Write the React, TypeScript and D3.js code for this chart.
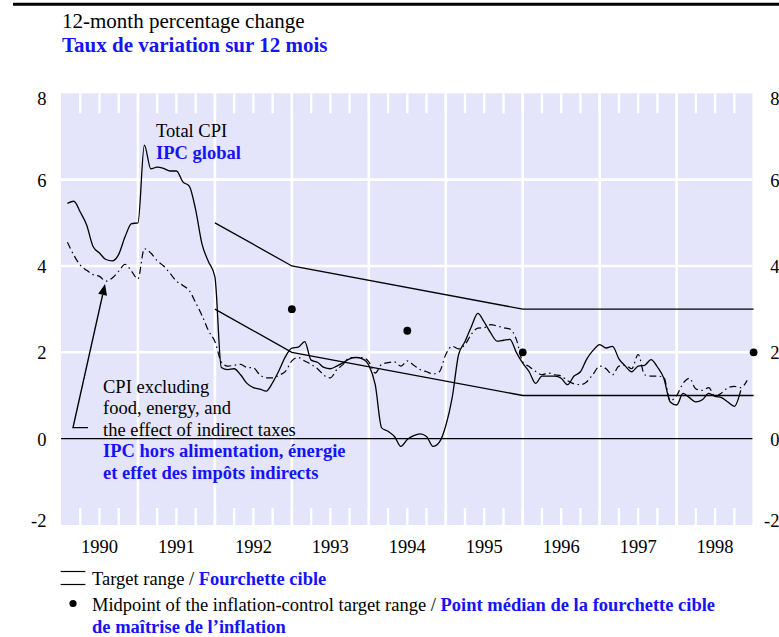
import React from "react";
import * as d3 from "d3";

// ---------- data ----------
const START_YEAR = 1990;
// Monthly 12-month % change, Jan 1990 onward
const totalCPI = [
  5.45, 5.5, 5.25, 4.95, 4.45, 4.3, 4.15, 4.12, 4.27, 4.68, 4.98, 5.0,
  6.8, 6.25, 6.29, 6.26, 6.2, 6.2, 5.95, 5.85, 5.3, 4.5, 4.1, 3.75,
  1.65, 1.6, 1.62, 1.48, 1.28, 1.18, 1.15, 1.1, 1.3, 1.58, 1.9, 2.1,
  2.12, 2.25, 1.82, 1.77, 1.65, 1.62, 1.68, 1.76, 1.85, 1.88, 1.85, 1.7,
  1.25, 0.25, 0.17, 0.05, -0.18, -0.02, 0.07, 0.11, 0.05, -0.18, -0.08, 0.3,
  0.95, 1.95, 2.25, 2.6, 2.9, 2.7, 2.45, 2.26, 2.28, 2.3, 2.0, 1.75,
  1.55, 1.28, 1.45, 1.45, 1.45, 1.4, 1.25, 1.45, 1.55, 1.85, 2.05, 2.18,
  2.1, 2.14, 1.85, 1.68, 1.55, 1.68, 1.7, 1.83, 1.66, 1.4, 0.85, 0.78,
  1.05, 0.95, 0.85, 0.9, 1.05, 0.98, 0.95, 0.85, 0.75, 1.12,
];
const coreCPI = [
  4.55, 4.25, 4.02, 3.9, 3.8, 3.76, 3.65, 3.72, 3.88, 4.04, 3.88, 3.7,
  4.4, 4.3, 4.12, 4.0, 3.83, 3.65, 3.55, 3.43, 3.15, 2.85, 2.5, 2.25,
  1.78, 1.68, 1.7, 1.72, 1.65, 1.64, 1.48, 1.41, 1.41, 1.47, 1.56, 1.8,
  1.88, 1.8, 1.72, 1.62, 1.47, 1.41, 1.6, 1.72, 1.88, 1.88, 1.88, 1.78,
  1.52, 1.72, 1.76, 1.78, 1.68, 1.8, 1.7, 1.6, 1.55, 1.5, 1.55, 1.95,
  2.14, 2.08, 2.18, 2.42, 2.56, 2.57, 2.64, 2.61, 2.57, 2.54, 2.3, 1.78,
  1.67, 1.56, 1.48, 1.52, 1.48, 1.45, 1.34, 1.27, 1.25, 1.32, 1.5, 1.68,
  1.62, 1.48, 1.68, 1.7, 1.62, 1.95, 1.48, 1.45, 1.45, 1.42, 0.88, 1.0,
  1.28, 1.4, 1.15, 1.12, 1.18, 0.98, 1.06, 1.18, 1.21, 1.18, 1.35,
];
const targetYears = [1992, 1993, 1996, 1999];
const targetUpper = [5, 4, 3, 3];
const targetLower = [3, 2, 1, 1];
const midYears = [1993, 1994.5, 1996, 1999];
const midValues = [3, 2.5, 2, 2];
const yearLabels = ["1990", "1991", "1992", "1993", "1994", "1995", "1996", "1997", "1998"];
const yTicks = [8, 6, 4, 2, 0, -2];

// ---------- layout ----------
const W = 779;
const H = 637;
const L = 61;
const R = 753.6;
const T = 93.3;
const B = 525;
const BLUE = "#1414f5";
const PANEL = "#e4e4fb";
const FONT = "'Liberation Serif', 'Times New Roman', serif";

export default function App() {
  const x = d3.scaleLinear().domain([1990, 1999]).range([L, R]);
  const y = d3.scaleLinear().domain([-2, 8]).range([B, T]);
  const t = (i: number) => START_YEAR + (i + 1) / 12;

  const line = d3
    .line<number>()
    .x((_, i) => x(t(i)))
    .y((d) => y(d))
    .curve(d3.curveMonotoneX);

  const bandLine = (vals: number[]) =>
    d3
      .line<number>()
      .x((_, i) => x(targetYears[i]))
      .y((d) => y(d))(vals) as string;

  const quarters = d3.range(1990, 1999.001, 0.25);
  const years = d3.range(1991, 1999, 1);

  // arrow annotation (pointing to core CPI)
  const arrowBase = { t: 1990.156, v: 0.255 };
  const arrowTip = { t: 1990.572, v: 3.58 };
  const ax0 = x(arrowBase.t), ay0 = y(arrowBase.v);
  const ax1 = x(arrowTip.t), ay1 = y(arrowTip.v);
  const ang = Math.atan2(ay1 - ay0, ax1 - ax0);
  const hl = 11, hw = 4.5;
  const bx = ax1 - hl * Math.cos(ang), by = ay1 - hl * Math.sin(ang);
  const head = [
    [ax1, ay1],
    [bx + hw * Math.sin(ang), by - hw * Math.cos(ang)],
    [bx - hw * Math.sin(ang), by + hw * Math.cos(ang)],
  ];

  const labelY = (v: number) => y(v) + 1 + (v === 8 ? 4.5 : v === -2 ? -5 : 0);

  return (
    <svg
      width={W}
      height={H}
      style={{ position: "absolute", left: 0, top: 0, background: "#fff" }}
      fontFamily={FONT}
    >
      {/* top rule */}
      <line x1={13} x2={779} y1={4.3} y2={4.3} stroke="#000" strokeWidth={3} />
      {/* title */}
      <text x={62} y={28} fontSize={21} fill="#000">12-month percentage change</text>
      <text x={62} y={51.5} fontSize={21} fontWeight="bold" fill={BLUE}>
        Taux de variation sur 12 mois
      </text>

      {/* panel */}
      <rect x={L} y={T} width={752.4 - L} height={B - T} fill={PANEL} />
      {/* horizontal grid */}
      {[2, 4, 6].map((v) => (
        <line key={"h" + v} x1={L} x2={752.4} y1={y(v)} y2={y(v)} stroke="#fff" strokeWidth={2.6} />
      ))}
      {/* vertical year grid */}
      {years.map((yr) => (
        <line key={"v" + yr} x1={x(yr)} x2={x(yr)} y1={T} y2={B} stroke="#fff" strokeWidth={2.6} />
      ))}
      {/* quarterly ticks */}
      {quarters.slice(1, -1).map((q) => (
        <g key={"q" + q}>
          <line x1={x(q)} x2={x(q)} y1={T} y2={T + 20} stroke="#fff" strokeWidth={2.4} />
          <line x1={x(q)} x2={x(q)} y1={B - 17} y2={B} stroke="#fff" strokeWidth={2.4} />
        </g>
      ))}
      {/* zero line */}
      <line x1={L} x2={752.4} y1={y(0)} y2={y(0)} stroke="#000" strokeWidth={1.2} />

      {/* target range */}
      <path d={bandLine(targetUpper)} fill="none" stroke="#000" strokeWidth={1.3} />
      <path d={bandLine(targetLower)} fill="none" stroke="#000" strokeWidth={1.3} />

      {/* series */}
      <path d={line(coreCPI) as string} fill="none" stroke="#000" strokeWidth={1.2}
        strokeDasharray="7 3.5 1.5 3.5" />
      <path d={line(totalCPI) as string} fill="none" stroke="#000" strokeWidth={1.3} />

      {/* midpoints */}
      {midYears.map((yr, i) => (
        <circle key={"m" + i} cx={x(yr)} cy={y(midValues[i])} r={3.9} fill="#000" />
      ))}

      {/* arrow */}
      <polyline
        points={`${ax0 + 15},${ay0} ${ax0},${ay0} ${bx},${by}`}
        fill="none"
        stroke="#000"
        strokeWidth={1.4}
      />
      <polygon points={head.map((p) => p.join(",")).join(" ")} fill="#000" />

      {/* annotations */}
      <text x={156} y={137} fontSize={18.5} fill="#000">Total CPI</text>
      <text x={156} y={158.5} fontSize={18.5} fontWeight="bold" fill={BLUE}>IPC global</text>
      <g fontSize={18.5}>
        <text x={103} y={392.5} fill="#000">CPI excluding</text>
        <text x={103} y={414} fill="#000">food, energy, and</text>
        <text x={103} y={435.5} fill="#000">the effect of indirect taxes</text>
        <text x={103} y={457} fill={BLUE} fontWeight="bold">IPC hors alimentation, énergie</text>
        <text x={103} y={478.5} fill={BLUE} fontWeight="bold">et effet des impôts indirects</text>
      </g>

      {/* y labels */}
      {yTicks.map((v) => (
        <g key={"y" + v} fontSize={18.5} fill="#000">
          <text x={46.5} y={labelY(v)} textAnchor="end" dominantBaseline="central">{v}</text>
          <text x={779.5} y={labelY(v)} textAnchor="end" dominantBaseline="central">{v}</text>
        </g>
      ))}
      {/* x labels */}
      {yearLabels.map((lab, i) => (
        <text key={lab} x={x(1990 + i + 0.5)} y={553} fontSize={18.5} textAnchor="middle" fill="#000">
          {lab}
        </text>
      ))}

      {/* legend */}
      <line x1={60.6} x2={85.4} y1={571.5} y2={571.5} stroke="#000" strokeWidth={1.2} />
      <line x1={60.6} x2={85.4} y1={584.5} y2={584.5} stroke="#000" strokeWidth={1.2} />
      <text x={92} y={585} fontSize={18.5} fill="#000">
        Target range /{" "}
        <tspan fill={BLUE} fontWeight="bold">Fourchette cible</tspan>
      </text>
      <circle cx={73} cy={603.5} r={3.6} fill="#000" />
      <text x={92} y={611} fontSize={18.5} fill="#000">
        Midpoint of the inflation-control target range /{" "}
        <tspan fill={BLUE} fontWeight="bold">Point médian de la fourchette cible</tspan>
      </text>
      <text x={92} y={632.5} fontSize={18.5} fill={BLUE} fontWeight="bold">
        de maîtrise de l’inflation
      </text>
    </svg>
  );
}
